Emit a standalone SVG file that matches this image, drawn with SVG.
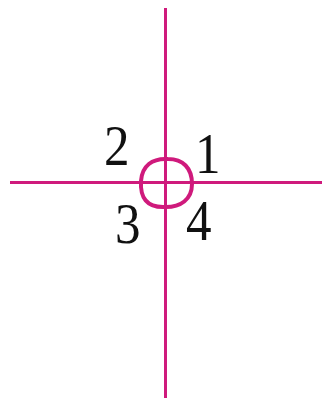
<svg xmlns="http://www.w3.org/2000/svg" width="322" height="400" viewBox="0 0 322 400">
<style>
.ln{stroke:#cf1a7c;stroke-width:3;fill:none}
.lbl{font-family:"Liberation Serif","Times New Roman",serif;font-size:58px;fill:#111}
</style>
<rect width="322" height="400" fill="#fff"/>
<g id="connectors">
<line class="ln" x1="165.5" y1="8" x2="165.5" y2="398"/>
<line class="ln" x1="10" y1="182.5" x2="322" y2="182.5"/>
</g>
<g id="loop">
<path class="ln" style="stroke-width:4" d="M168,159 C152,158 142,166 141,181 C140,198 147,207 163,207 C181,208 192,199 192,184 C192,168 183,159 168,159 Z"/>
</g>
<g id="label-1"><text class="lbl" transform="translate(195,173) scale(0.88,1)">1</text></g>
<g id="label-2"><text class="lbl" transform="translate(104,165) scale(0.88,1)">2</text></g>
<g id="label-3"><text class="lbl" transform="translate(115,243) scale(0.88,1)">3</text></g>
<g id="label-4"><text class="lbl" transform="translate(186,240) scale(0.88,1)">4</text></g>
</svg>
